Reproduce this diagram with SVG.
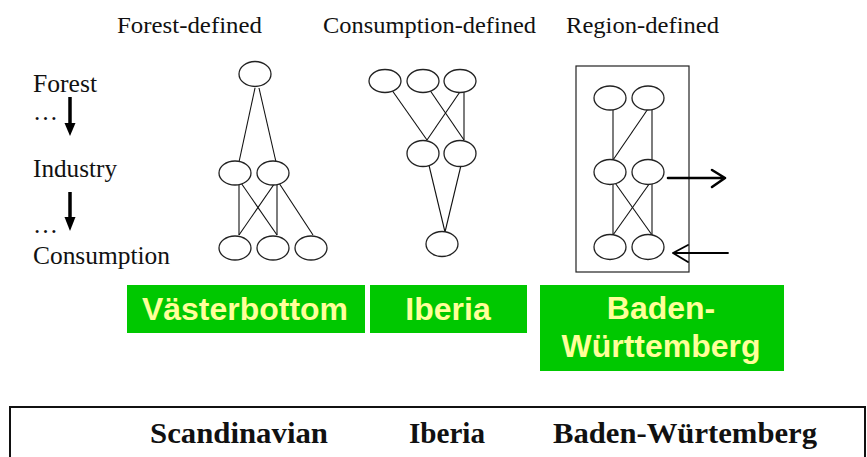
<svg xmlns="http://www.w3.org/2000/svg" width="867" height="457" viewBox="0 0 867 457">
  <style>
    .serif { font-family: "Liberation Serif", "Times New Roman", serif; fill: #111; }
    .title { font-size: 24px; }
    .side { font-size: 25px; }
    .node { fill: #fff; stroke: #222; stroke-width: 1.3; }
    .edge { stroke: #111; stroke-width: 1.1; fill: none; }
    .tag rect { fill: #00c800; }
    .tag text { font-family: "Liberation Sans", Arial, sans-serif; font-weight: bold; font-size: 32px; fill: #ffff99; text-anchor: middle; }
    .flow { stroke: #000; fill: none; stroke-linecap: round; stroke-linejoin: round; }
    .legend { font-family: "Liberation Serif", "Times New Roman", serif; font-weight: bold; font-size: 30px; fill: #111; }
  </style>
  <rect width="867" height="457" fill="#fff"/>

  <!-- column titles -->
  <g id="titles" class="serif title">
    <text x="117" y="33" textLength="145" lengthAdjust="spacingAndGlyphs">Forest-defined</text>
    <text x="323" y="33" textLength="213" lengthAdjust="spacingAndGlyphs">Consumption-defined</text>
    <text x="566" y="33" textLength="153" lengthAdjust="spacingAndGlyphs">Region-defined</text>
  </g>

  <!-- chain axis on the left -->
  <g id="axis">
    <g class="serif side">
      <text x="33" y="92" textLength="64" lengthAdjust="spacingAndGlyphs">Forest</text>
      <text x="33" y="120">…</text>
      <text x="33" y="177" textLength="84" lengthAdjust="spacingAndGlyphs">Industry</text>
      <text x="33" y="233">…</text>
      <text x="33" y="264" textLength="137" lengthAdjust="spacingAndGlyphs">Consumption</text>
    </g>
    <line x1="70" y1="97" x2="70" y2="124" stroke="#000" stroke-width="3.5"/>
    <path d="M64.5,123 L75.5,123 L70,136 z" fill="#000"/>
    <line x1="70" y1="192" x2="70" y2="218" stroke="#000" stroke-width="3.5"/>
    <path d="M64.5,217 L75.5,217 L70,231 z" fill="#000"/>
  </g>

  <!-- region boundary -->
  <rect id="region-box" x="576" y="66" width="113" height="206" fill="none" stroke="#222" stroke-width="1.2"/>

  <!-- connectors -->
  <g id="connectors" class="edge">
    <!-- forest-defined -->
    <line x1="255" y1="88" x2="239" y2="162"/>
    <line x1="259" y1="88" x2="276" y2="162"/>
    <line x1="239" y1="180" x2="239" y2="235"/>
    <line x1="239" y1="180" x2="277" y2="235"/>
    <line x1="277" y1="180" x2="239" y2="235"/>
    <line x1="277" y1="180" x2="277" y2="235"/>
    <line x1="277" y1="180" x2="313" y2="235"/>
    <!-- consumption-defined -->
    <line x1="389" y1="86" x2="427" y2="140"/>
    <line x1="427" y1="86" x2="464" y2="140"/>
    <line x1="464" y1="86" x2="427" y2="140"/>
    <line x1="464" y1="86" x2="464" y2="140"/>
    <line x1="427" y1="157" x2="445" y2="232"/>
    <line x1="463" y1="157" x2="445" y2="232"/>
    <!-- region-defined -->
    <line x1="613" y1="109" x2="613" y2="160"/>
    <line x1="652" y1="103" x2="613" y2="160"/>
    <line x1="652" y1="103" x2="652" y2="160"/>
    <line x1="613" y1="180" x2="613" y2="235"/>
    <line x1="613" y1="180" x2="652" y2="235"/>
    <line x1="652" y1="180" x2="613" y2="235"/>
    <line x1="652" y1="180" x2="652" y2="235"/>
    <!-- exchange with outside the region -->
    <path class="flow" d="M668,178 L725,178 M712,170 L725,178 L712,187" stroke-width="2.6"/>
    <path class="flow" d="M728,253 L673,253 M688,245 L673,253 L688,262" stroke-width="1.8"/>
  </g>

  <!-- forest-defined nodes -->
  <g id="f-forest"><ellipse class="node" cx="255" cy="74" rx="16" ry="12.5"/></g>
  <g id="f-ind-1"><ellipse class="node" cx="235" cy="173" rx="16" ry="12"/></g>
  <g id="f-ind-2"><ellipse class="node" cx="273" cy="173" rx="16" ry="12"/></g>
  <g id="f-con-1"><ellipse class="node" cx="235" cy="248" rx="16" ry="12"/></g>
  <g id="f-con-2"><ellipse class="node" cx="273" cy="248" rx="16" ry="12"/></g>
  <g id="f-con-3"><ellipse class="node" cx="311" cy="248" rx="16" ry="12"/></g>

  <!-- consumption-defined nodes -->
  <g id="c-forest-1"><ellipse class="node" cx="385" cy="81" rx="16" ry="11.5"/></g>
  <g id="c-forest-2"><ellipse class="node" cx="423" cy="81" rx="16" ry="11.5"/></g>
  <g id="c-forest-3"><ellipse class="node" cx="460" cy="81" rx="16" ry="11.5"/></g>
  <g id="c-ind-1"><ellipse class="node" cx="423" cy="153.5" rx="16" ry="13"/></g>
  <g id="c-ind-2"><ellipse class="node" cx="460" cy="153.5" rx="16" ry="13"/></g>
  <g id="c-con"><ellipse class="node" cx="442" cy="244" rx="16" ry="12.5"/></g>

  <!-- region-defined nodes -->
  <g id="r-forest-1"><ellipse class="node" cx="610" cy="98" rx="16" ry="12"/></g>
  <g id="r-forest-2"><ellipse class="node" cx="648" cy="98" rx="16" ry="12"/></g>
  <g id="r-ind-1"><ellipse class="node" cx="610" cy="172" rx="16" ry="12.5"/></g>
  <g id="r-ind-2"><ellipse class="node" cx="648" cy="172" rx="16" ry="12.5"/></g>
  <g id="r-con-1"><ellipse class="node" cx="610" cy="247" rx="16" ry="12.5"/></g>
  <g id="r-con-2"><ellipse class="node" cx="648" cy="247" rx="16" ry="12.5"/></g>

  <!-- example regions -->
  <g id="tag-vasterbottom" class="tag">
    <rect x="127" y="285" width="238" height="48"/>
    <text x="245" y="320" textLength="206" lengthAdjust="spacingAndGlyphs">Västerbottom</text>
  </g>
  <g id="tag-iberia" class="tag">
    <rect x="370" y="285" width="157" height="48"/>
    <text x="448" y="320">Iberia</text>
  </g>
  <g id="tag-baden" class="tag">
    <rect x="540" y="285" width="244" height="86"/>
    <text x="661" y="319">Baden-</text>
    <text x="661" y="357" textLength="199" lengthAdjust="spacingAndGlyphs">Württemberg</text>
  </g>

  <!-- legend strip -->
  <g id="legend">
    <rect x="10" y="407" width="855" height="60" fill="none" stroke="#111" stroke-width="2"/>
    <text class="legend" x="150" y="443" textLength="178" lengthAdjust="spacingAndGlyphs">Scandinavian</text>
    <text class="legend" x="409" y="443" textLength="76" lengthAdjust="spacingAndGlyphs">Iberia</text>
    <text class="legend" x="553" y="443" textLength="264" lengthAdjust="spacingAndGlyphs">Baden-Würtemberg</text>
  </g>
</svg>
